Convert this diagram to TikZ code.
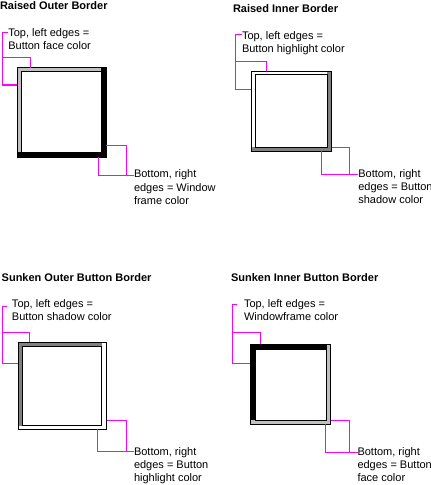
\documentclass[tikz,border=0pt]{standalone}
\usepackage{fontspec}
\setmainfont{Liberation Sans}
\definecolor{btnface}{HTML}{C0C0C0}
\definecolor{btnshadow}{HTML}{808080}
\definecolor{mag}{HTML}{FF00FF}
\tikzset{
 lbl/.style={anchor=north west, inner sep=0pt, outer sep=0pt, align=left, font=\fontsize{8.25pt}{9.9pt}\selectfont},
 ttl/.style={anchor=north west, inner sep=0pt, outer sep=0pt, font=\fontsize{8.25pt}{9.9pt}\selectfont\bfseries},
 lead/.style={draw=mag, line width=0.75pt},
 outl/.style={draw=black, line width=0.75pt},
}
\begin{document}
\begin{tikzpicture}[x=0.75pt,y=-0.75pt]
\useasboundingbox (0,0) rectangle (431,485);

% ---------- Panel 1: Raised Outer ----------
\node[ttl] (h1) at (0,1.7) {Raised Outer Border};
\node[lbl] (t1) at (8.3,28.3) {Top, left edges =\\Button face color};
\node[lbl] (u1) at (134,170) {Bottom, right\\edges = Window\\frame color};
\coordinate (p1a) at (17,68); \coordinate (p1b) at (106,157);
\fill[btnface] (p1a) rectangle (p1b);
\fill[black] (101,68) rectangle (p1b);
\fill[black] (17,152) rectangle (p1b);
\draw[outl, fill=white] (21,72) rectangle (101,152);
\draw[outl] (p1a) rectangle (p1b);
\coordinate (k1) at (2,32.3);
\draw[lead] (k1) -- (k1 -| t1.west);
\draw[lead] (k1) |- (p1a |- 0,85);
\draw[lead] (2,58) -| (30,68);
\draw[lead] (p1b |- 0,145) -| (126,175);
\draw[lead] (98,157) |- (u1.west |- 0,175);

% ---------- Panel 2: Raised Inner ----------
\node[ttl] (h2) at (233,5) {Raised Inner Border};
\node[lbl] (t2) at (242,31.3) {Top, left edges =\\Button highlight color};
\node[lbl] (u2) at (358.3,169.5) {Bottom, right\\edges = Button\\shadow color};
\coordinate (p2a) at (251.3,71.3); \coordinate (p2b) at (331.7,151.3);
\fill[white] (p2a) rectangle (p2b);
\fill[btnshadow] (327.3,71.3) rectangle (p2b);
\fill[btnshadow] (251.3,147.3) rectangle (p2b);
\draw[outl, fill=white] (255,75) rectangle (327.3,147.3);
\draw[outl] (p2a) rectangle (p2b);
\coordinate (k2) at (235,35);
\draw[lead] (k2) -- (k2 -| t2.west);
\draw[lead] (k2) |- (p2a |- 0,89);
\draw[lead] (235,62) -| (266.5,71.3);
\draw[lead] (p2b |- 0,147.7) -| (349.3,174.3);
\draw[lead] (321.3,151.3) |- (u2.west |- 0,174.3);

% ---------- Panel 3: Sunken Outer ----------
\node[ttl] (h3) at (1.7,273.3) {Sunken Outer Button Border};
\node[lbl] (t3) at (12,299.3) {Top, left edges =\\Button shadow color};
\node[lbl] (u3) at (134,447.3) {Bottom, right\\edges = Button\\highlight color};
\coordinate (p3a) at (18,342.3); \coordinate (p3b) at (106.7,429.3);
\fill[btnshadow] (p3a) rectangle (p3b);
\fill[white] (101.7,342.3) rectangle (p3b);
\fill[white] (18,425.7) rectangle (p3b);
\draw[outl, fill=white] (22.3,346.7) rectangle (101.7,425.7);
\draw[outl] (p3a) rectangle (p3b);
\coordinate (k3) at (2,306);
\draw[lead] (k3) -- (7,306);
\draw[lead] (k3) |- (p3a |- 0,363.3);
\draw[lead] (2,332.3) -| (29,342.3);
\draw[lead] (p3b |- 0,420) -| (126,451.7);
\draw[lead] (97.3,429.3) |- (u3.west |- 0,451.7);

% ---------- Panel 4: Sunken Inner ----------
\node[ttl] (h4) at (231,273.3) {Sunken Inner Button Border};
\node[lbl] (t4) at (244,299.3) {Top, left edges =\\Windowframe color};
\node[lbl] (u4) at (357.5,447.3) {Bottom, right\\edges = Button\\face color};
\coordinate (p4a) at (250,344.3); \coordinate (p4b) at (330.7,424.3);
\fill[black] (p4a) rectangle (p4b);
\fill[btnface] (326.7,344.3) rectangle (p4b);
\fill[btnface] (250,420) rectangle (p4b);
\draw[outl, fill=white] (255,349) rectangle (326.7,420);
\draw[outl] (p4a) rectangle (p4b);
\coordinate (k4) at (232.7,304.3);
\draw[lead] (k4) -- (236.7,304.3);
\draw[lead] (k4) |- (p4a |- 0,363.3);
\draw[lead] (232.7,332.3) -| (260.7,344.3);
\draw[lead] (p4b |- 0,420) -| (349.3,452);
\draw[lead] (325.3,424.3) |- (u4.west |- 0,452);
\end{tikzpicture}
\end{document}
